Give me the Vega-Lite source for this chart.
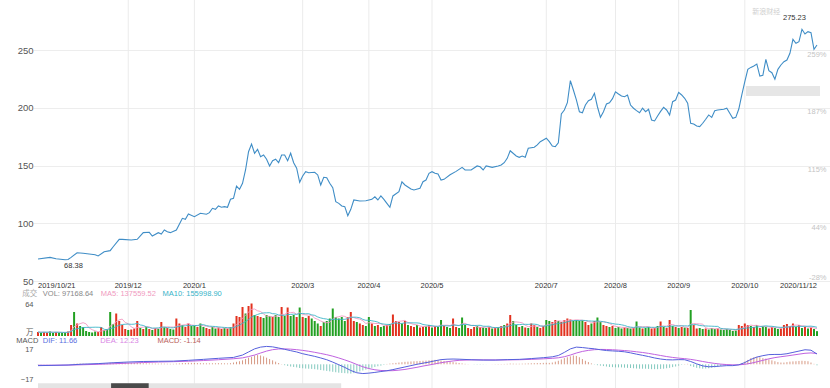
{
"$schema": "https://vega.github.io/schema/vega-lite/v6.json",
"width": 797, "height": 388,
"autosize": {"type": "none"},
"padding": {"left": 33, "top": 0, "right": 0, "bottom": 0},
"background": "white",
"config": {"view": {"stroke": null}, "font": "Liberation Sans, Noto Sans CJK SC"},
"datasets": {
"ticks": [
{"i":0,"t":"2019/10/21"},{"i":30,"t":"2019/12"},{"i":52,"t":"2020/1"},{"i":88,"t":"2020/3"},{"i":110,"t":"2020/4"},{"i":131,"t":"2020/5"},{"i":169,"t":"2020/7"},{"i":192,"t":"2020/8"},{"i":213,"t":"2020/9"},{"i":235,"t":"2020/10"},{"i":259,"t":"2020/11/12"}
],
"price": [
{"i":0,"c":69.0},{"i":4,"c":70.5},{"i":6,"c":69.3},{"i":9,"c":68.4},{"i":10,"c":68.6},{"i":11,"c":70.5},{"i":13,"c":74.5},{"i":15,"c":74.0},{"i":17,"c":73.4},{"i":19,"c":72.8},{"i":20,"c":71.7},{"i":22,"c":75.4},{"i":24,"c":76.3},{"i":25,"c":79.7},{"i":27,"c":86.1},{"i":28,"c":86.1},{"i":31,"c":85.5},{"i":33,"c":86.1},{"i":35,"c":91.9},{"i":37,"c":92.2},{"i":38,"c":89.0},{"i":40,"c":91.9},{"i":41,"c":90.7},{"i":42,"c":94.2},{"i":43,"c":92.7},{"i":44,"c":91.9},{"i":46,"c":94.2},{"i":48,"c":104.3},{"i":49,"c":103.5},{"i":50,"c":108.0},{"i":52,"c":105.7},{"i":54,"c":108.7},{"i":56,"c":107.8},{"i":57,"c":109.2},{"i":58,"c":113.0},{"i":59,"c":112.1},{"i":60,"c":115.0},{"i":61,"c":113.9},{"i":62,"c":114.4},{"i":63,"c":113.9},{"i":64,"c":120.8},{"i":65,"c":121.7},{"i":66,"c":132.3},{"i":67,"c":129.5},{"i":68,"c":134.7},{"i":69,"c":146.2},{"i":70,"c":162.0},{"i":71,"c":168.7},{"i":72,"c":160.7},{"i":73,"c":164.1},{"i":74,"c":157.7},{"i":75,"c":159.2},{"i":76,"c":155.5},{"i":77,"c":149.7},{"i":78,"c":154.2},{"i":79,"c":155.5},{"i":80,"c":152.5},{"i":81,"c":159.2},{"i":82,"c":159.2},{"i":83,"c":154.2},{"i":84,"c":160.7},{"i":85,"c":152.5},{"i":86,"c":147.7},{"i":87,"c":135.5},{"i":88,"c":141.0},{"i":89,"c":144.7},{"i":90,"c":143.8},{"i":92,"c":144.2},{"i":93,"c":141.9},{"i":94,"c":133.2},{"i":95,"c":139.9},{"i":96,"c":139.5},{"i":97,"c":134.7},{"i":98,"c":130.9},{"i":99,"c":118.7},{"i":100,"c":117.3},{"i":101,"c":115.0},{"i":102,"c":114.4},{"i":103,"c":106.6},{"i":104,"c":112.1},{"i":105,"c":120.2},{"i":107,"c":119.3},{"i":109,"c":119.6},{"i":111,"c":120.8},{"i":112,"c":123.0},{"i":113,"c":120.2},{"i":114,"c":123.7},{"i":115,"c":120.8},{"i":116,"c":117.3},{"i":117,"c":113.9},{"i":118,"c":123.7},{"i":120,"c":127.4},{"i":121,"c":136.0},{"i":122,"c":133.2},{"i":124,"c":129.7},{"i":125,"c":128.9},{"i":127,"c":130.3},{"i":128,"c":136.0},{"i":129,"c":137.5},{"i":130,"c":143.3},{"i":131,"c":144.7},{"i":132,"c":143.3},{"i":133,"c":142.7},{"i":134,"c":137.5},{"i":135,"c":138.1},{"i":137,"c":142.0},{"i":139,"c":145.0},{"i":141,"c":148.5},{"i":142,"c":146.2},{"i":144,"c":146.2},{"i":146,"c":149.7},{"i":147,"c":149.0},{"i":148,"c":146.2},{"i":149,"c":149.7},{"i":151,"c":148.5},{"i":153,"c":149.7},{"i":154,"c":150.5},{"i":155,"c":152.5},{"i":156,"c":156.3},{"i":157,"c":162.9},{"i":159,"c":158.3},{"i":160,"c":157.2},{"i":161,"c":158.3},{"i":162,"c":157.2},{"i":163,"c":165.0},{"i":165,"c":165.9},{"i":166,"c":167.9},{"i":167,"c":170.7},{"i":168,"c":172.2},{"i":169,"c":173.7},{"i":170,"c":170.7},{"i":171,"c":167.0},{"i":172,"c":166.4},{"i":173,"c":169.8},{"i":174,"c":194.7},{"i":175,"c":198.2},{"i":176,"c":204.5},{"i":177,"c":223.6},{"i":178,"c":215.5},{"i":179,"c":207.0},{"i":180,"c":196.7},{"i":181,"c":195.8},{"i":182,"c":202.5},{"i":183,"c":206.2},{"i":184,"c":207.4},{"i":185,"c":212.6},{"i":186,"c":201.0},{"i":187,"c":191.8},{"i":188,"c":196.7},{"i":189,"c":203.4},{"i":190,"c":204.5},{"i":191,"c":208.0},{"i":192,"c":214.0},{"i":193,"c":212.0},{"i":194,"c":210.3},{"i":195,"c":209.7},{"i":196,"c":211.2},{"i":197,"c":202.5},{"i":198,"c":199.7},{"i":199,"c":197.6},{"i":200,"c":195.8},{"i":201,"c":199.7},{"i":202,"c":196.7},{"i":203,"c":198.8},{"i":204,"c":189.5},{"i":205,"c":188.7},{"i":206,"c":193.0},{"i":207,"c":197.0},{"i":208,"c":200.5},{"i":209,"c":198.2},{"i":210,"c":193.9},{"i":211,"c":205.4},{"i":212,"c":206.8},{"i":213,"c":213.5},{"i":214,"c":211.2},{"i":215,"c":208.3},{"i":216,"c":204.0},{"i":217,"c":186.7},{"i":218,"c":186.1},{"i":219,"c":184.3},{"i":220,"c":183.8},{"i":221,"c":186.7},{"i":222,"c":190.2},{"i":223,"c":193.9},{"i":224,"c":191.8},{"i":225,"c":197.6},{"i":226,"c":198.2},{"i":228,"c":198.8},{"i":229,"c":199.7},{"i":230,"c":195.3},{"i":231,"c":191.0},{"i":232,"c":191.8},{"i":233,"c":199.0},{"i":234,"c":211.2},{"i":235,"c":222.7},{"i":236,"c":233.4},{"i":237,"c":235.1},{"i":238,"c":236.3},{"i":239,"c":238.0},{"i":240,"c":227.6},{"i":241,"c":228.2},{"i":242,"c":242.1},{"i":243,"c":232.2},{"i":244,"c":230.5},{"i":245,"c":224.8},{"i":246,"c":233.4},{"i":247,"c":237.2},{"i":248,"c":240.0},{"i":249,"c":241.5},{"i":250,"c":247.3},{"i":251,"c":259.4},{"i":252,"c":256.0},{"i":253,"c":257.4},{"i":254,"c":268.1},{"i":255,"c":264.0},{"i":256,"c":266.1},{"i":257,"c":265.2},{"i":258,"c":250.8},{"i":259,"c":254.5}
],
"daily": [
{"i":0,"v":8,"u":1,"m":-0.3},{"i":1,"v":7,"u":0,"m":-0.3},{"i":2,"v":8,"u":1,"m":-0.2},{"i":3,"v":7,"u":1,"m":-0.2},{"i":4,"v":9,"u":0,"m":-0.1},{"i":5,"v":6,"u":0,"m":-0.1},{"i":6,"v":8,"u":1,"m":0},{"i":7,"v":7,"u":0,"m":0},{"i":8,"v":6,"u":0,"m":0.1},{"i":9,"v":7,"u":0,"m":0},
{"i":10,"v":9,"u":1,"m":0.1},{"i":11,"v":22,"u":1,"m":0.3},{"i":12,"v":48,"u":0,"m":0.6},{"i":13,"v":25,"u":1,"m":0.8},{"i":14,"v":20,"u":0,"m":0.9},{"i":15,"v":18,"u":0,"m":0.8},{"i":16,"v":10,"u":0,"m":0.6},{"i":17,"v":8,"u":0,"m":0.5},{"i":18,"v":7,"u":0,"m":0.4},{"i":19,"v":9,"u":0,"m":0.4},
{"i":20,"v":8,"u":1,"m":0.5},{"i":21,"v":18,"u":1,"m":0.8},{"i":22,"v":12,"u":0,"m":1},{"i":23,"v":14,"u":0,"m":1.2},{"i":24,"v":48,"u":0,"m":1.8},{"i":25,"v":24,"u":0,"m":2},{"i":26,"v":45,"u":1,"m":2.4},{"i":27,"v":30,"u":1,"m":2.4},{"i":28,"v":22,"u":1,"m":2.2},{"i":29,"v":14,"u":1,"m":2},
{"i":30,"v":12,"u":0,"m":1.8},{"i":31,"v":13,"u":1,"m":1.6},{"i":32,"v":15,"u":1,"m":1.5},{"i":33,"v":30,"u":1,"m":1.6},{"i":34,"v":16,"u":0,"m":1.4},{"i":35,"v":14,"u":1,"m":1.2},{"i":36,"v":18,"u":0,"m":1.1},{"i":37,"v":14,"u":1,"m":1},{"i":38,"v":12,"u":0,"m":0.8},{"i":39,"v":16,"u":1,"m":0.8},
{"i":40,"v":14,"u":0,"m":0.7},{"i":41,"v":28,"u":1,"m":0.8},{"i":42,"v":18,"u":0,"m":0.7},{"i":43,"v":16,"u":1,"m":0.6},{"i":44,"v":14,"u":0,"m":0.5},{"i":45,"v":13,"u":0,"m":0.5},{"i":46,"v":35,"u":1,"m":0.8},{"i":47,"v":25,"u":1,"m":1},{"i":48,"v":22,"u":0,"m":1.4},{"i":49,"v":18,"u":1,"m":1.5},
{"i":50,"v":25,"u":1,"m":1.7},{"i":51,"v":20,"u":0,"m":1.6},{"i":52,"v":21,"u":0,"m":1.5},{"i":53,"v":18,"u":1,"m":1.4},{"i":54,"v":25,"u":0,"m":1.3},{"i":55,"v":18,"u":0,"m":1.2},{"i":56,"v":16,"u":1,"m":1.1},{"i":57,"v":14,"u":1,"m":1.1},{"i":58,"v":18,"u":0,"m":1.2},{"i":59,"v":15,"u":0,"m":1.2},
{"i":60,"v":17,"u":1,"m":1.3},{"i":61,"v":14,"u":1,"m":1.2},{"i":62,"v":16,"u":0,"m":1.1},{"i":63,"v":15,"u":1,"m":1},{"i":64,"v":18,"u":0,"m":1.3},{"i":65,"v":25,"u":1,"m":2},{"i":66,"v":40,"u":1,"m":2.8},{"i":67,"v":38,"u":1,"m":3.5},{"i":68,"v":58,"u":1,"m":4.5},{"i":69,"v":45,"u":0,"m":6},
{"i":70,"v":60,"u":1,"m":7.5},{"i":71,"v":65,"u":1,"m":8.5},{"i":72,"v":42,"u":0,"m":10},{"i":73,"v":40,"u":1,"m":10.5},{"i":74,"v":38,"u":1,"m":10},{"i":75,"v":36,"u":0,"m":9},{"i":76,"v":42,"u":0,"m":7.5},{"i":77,"v":40,"u":0,"m":6},{"i":78,"v":38,"u":1,"m":4.5},{"i":79,"v":42,"u":0,"m":3},
{"i":80,"v":38,"u":0,"m":1.5},{"i":81,"v":58,"u":1,"m":0.3},{"i":82,"v":40,"u":0,"m":-1},{"i":83,"v":57,"u":1,"m":-1.8},{"i":84,"v":40,"u":0,"m":-2.5},{"i":85,"v":42,"u":0,"m":-3},{"i":86,"v":38,"u":1,"m":-3.5},{"i":87,"v":57,"u":0,"m":-4.2},{"i":88,"v":38,"u":1,"m":-4.5},{"i":89,"v":36,"u":0,"m":-4.8},
{"i":90,"v":40,"u":1,"m":-5},{"i":91,"v":35,"u":0,"m":-5.2},{"i":92,"v":30,"u":0,"m":-5.5},{"i":93,"v":25,"u":0,"m":-6},{"i":94,"v":20,"u":1,"m":-6.5},{"i":95,"v":28,"u":0,"m":-7},{"i":96,"v":30,"u":0,"m":-7.5},{"i":97,"v":35,"u":0,"m":-8},{"i":98,"v":55,"u":0,"m":-8.5},{"i":99,"v":38,"u":0,"m":-9},
{"i":100,"v":35,"u":0,"m":-9.5},{"i":101,"v":38,"u":0,"m":-9.8},{"i":102,"v":30,"u":0,"m":-10},{"i":103,"v":38,"u":1,"m":-10.3},{"i":104,"v":48,"u":1,"m":-10.5},{"i":105,"v":30,"u":1,"m":-10},{"i":106,"v":28,"u":0,"m":-9},{"i":107,"v":25,"u":1,"m":-8},{"i":108,"v":22,"u":1,"m":-7},{"i":109,"v":20,"u":0,"m":-6},
{"i":110,"v":38,"u":0,"m":-5},{"i":111,"v":25,"u":1,"m":-4},{"i":112,"v":20,"u":0,"m":-3},{"i":113,"v":22,"u":1,"m":-2.2},{"i":114,"v":18,"u":0,"m":-1.5},{"i":115,"v":20,"u":0,"m":-0.6},{"i":116,"v":22,"u":1,"m":0.4},{"i":117,"v":24,"u":0,"m":0.8},{"i":118,"v":43,"u":1,"m":1.2},{"i":119,"v":30,"u":1,"m":1.6},
{"i":120,"v":28,"u":1,"m":2},{"i":121,"v":25,"u":0,"m":2.4},{"i":122,"v":30,"u":1,"m":2.8},{"i":123,"v":22,"u":0,"m":3},{"i":124,"v":20,"u":1,"m":3.2},{"i":125,"v":18,"u":1,"m":3.4},{"i":126,"v":22,"u":0,"m":3.6},{"i":127,"v":17,"u":1,"m":3.8},{"i":128,"v":18,"u":1,"m":4},{"i":129,"v":20,"u":0,"m":4.2},
{"i":130,"v":22,"u":1,"m":4.5},{"i":131,"v":17,"u":0,"m":4.8},{"i":132,"v":20,"u":1,"m":5},{"i":133,"v":18,"u":0,"m":4.6},{"i":134,"v":32,"u":0,"m":4.2},{"i":135,"v":20,"u":1,"m":3.8},{"i":136,"v":18,"u":0,"m":3.5},{"i":137,"v":16,"u":0,"m":3},{"i":138,"v":35,"u":1,"m":2.5},{"i":139,"v":18,"u":1,"m":2},
{"i":140,"v":16,"u":0,"m":1.5},{"i":141,"v":37,"u":0,"m":1},{"i":142,"v":22,"u":0,"m":0.5},{"i":143,"v":16,"u":1,"m":0.2},{"i":144,"v":14,"u":1,"m":0},{"i":145,"v":18,"u":1,"m":-0.2},{"i":146,"v":20,"u":0,"m":-0.3},{"i":147,"v":18,"u":1,"m":-0.3},{"i":148,"v":17,"u":0,"m":-0.2},{"i":149,"v":16,"u":0,"m":-0.1},
{"i":150,"v":18,"u":1,"m":0},{"i":151,"v":15,"u":0,"m":0.1},{"i":152,"v":16,"u":1,"m":0.2},{"i":153,"v":18,"u":0,"m":0.3},{"i":154,"v":20,"u":1,"m":0.3},{"i":155,"v":22,"u":0,"m":0.4},{"i":156,"v":25,"u":1,"m":0.5},{"i":157,"v":42,"u":1,"m":0.8},{"i":158,"v":30,"u":0,"m":0.7},{"i":159,"v":22,"u":0,"m":0.6},
{"i":160,"v":18,"u":1,"m":0.6},{"i":161,"v":20,"u":0,"m":0.7},{"i":162,"v":17,"u":1,"m":0.8},{"i":163,"v":16,"u":0,"m":1},{"i":164,"v":25,"u":1,"m":1.2},{"i":165,"v":22,"u":1,"m":1.3},{"i":166,"v":18,"u":0,"m":1.4},{"i":167,"v":16,"u":1,"m":1.5},{"i":168,"v":20,"u":1,"m":1.6},{"i":169,"v":32,"u":0,"m":1.7},
{"i":170,"v":30,"u":0,"m":1.6},{"i":171,"v":28,"u":1,"m":2},{"i":172,"v":32,"u":1,"m":3},{"i":173,"v":30,"u":0,"m":4},{"i":174,"v":28,"u":1,"m":5.5},{"i":175,"v":32,"u":1,"m":7},{"i":176,"v":35,"u":1,"m":8},{"i":177,"v":33,"u":1,"m":9},{"i":178,"v":30,"u":0,"m":10},{"i":179,"v":32,"u":0,"m":9.5},
{"i":180,"v":30,"u":0,"m":8},{"i":181,"v":32,"u":0,"m":6},{"i":182,"v":28,"u":1,"m":4},{"i":183,"v":22,"u":1,"m":2.5},{"i":184,"v":25,"u":0,"m":1},{"i":185,"v":30,"u":1,"m":-0.3},{"i":186,"v":37,"u":0,"m":-1},{"i":187,"v":28,"u":0,"m":-1.5},{"i":188,"v":22,"u":1,"m":-2},{"i":189,"v":20,"u":1,"m":-2.5},
{"i":190,"v":18,"u":0,"m":-3},{"i":191,"v":20,"u":1,"m":-3.2},{"i":192,"v":16,"u":0,"m":-3.5},{"i":193,"v":18,"u":0,"m":-3.5},{"i":194,"v":15,"u":0,"m":-3.5},{"i":195,"v":17,"u":1,"m":-3.8},{"i":196,"v":16,"u":0,"m":-4},{"i":197,"v":15,"u":0,"m":-4.2},{"i":198,"v":16,"u":1,"m":-4.5},{"i":199,"v":29,"u":0,"m":-4.8},
{"i":200,"v":17,"u":0,"m":-5},{"i":201,"v":15,"u":1,"m":-5},{"i":202,"v":16,"u":0,"m":-5},{"i":203,"v":18,"u":0,"m":-5.2},{"i":204,"v":15,"u":1,"m":-5.5},{"i":205,"v":16,"u":1,"m":-5.5},{"i":206,"v":20,"u":0,"m":-5.5},{"i":207,"v":29,"u":1,"m":-5.2},{"i":208,"v":18,"u":0,"m":-5},{"i":209,"v":16,"u":1,"m":-4.5},
{"i":210,"v":32,"u":1,"m":-4},{"i":211,"v":20,"u":0,"m":-3.2},{"i":212,"v":18,"u":1,"m":-2.5},{"i":213,"v":16,"u":0,"m":-1.5},{"i":214,"v":18,"u":1,"m":-0.5},{"i":215,"v":17,"u":0,"m":0.3},{"i":216,"v":16,"u":1,"m":0.5},{"i":217,"v":52,"u":0,"m":-2},{"i":218,"v":22,"u":1,"m":-3},{"i":219,"v":15,"u":1,"m":-4},
{"i":220,"v":16,"u":0,"m":-4.5},{"i":221,"v":14,"u":0,"m":-5},{"i":222,"v":15,"u":1,"m":-4.8},{"i":223,"v":13,"u":0,"m":-4.5},{"i":224,"v":16,"u":0,"m":-4},{"i":225,"v":14,"u":0,"m":-3.5},{"i":226,"v":15,"u":1,"m":-2.8},{"i":227,"v":13,"u":0,"m":-2},{"i":228,"v":12,"u":0,"m":-1},{"i":229,"v":14,"u":0,"m":-0.5},
{"i":230,"v":12,"u":0,"m":-0.3},{"i":231,"v":10,"u":0,"m":-0.2},{"i":232,"v":11,"u":0,"m":0},{"i":233,"v":22,"u":1,"m":0.3},{"i":234,"v":20,"u":1,"m":1},{"i":235,"v":25,"u":1,"m":3},{"i":236,"v":22,"u":1,"m":5},{"i":237,"v":20,"u":0,"m":7},{"i":238,"v":18,"u":1,"m":8},{"i":239,"v":22,"u":0,"m":8.5},
{"i":240,"v":16,"u":1,"m":8},{"i":241,"v":20,"u":0,"m":7},{"i":242,"v":18,"u":0,"m":6.5},{"i":243,"v":15,"u":1,"m":5.5},{"i":244,"v":18,"u":1,"m":4.5},{"i":245,"v":16,"u":0,"m":3.5},{"i":246,"v":14,"u":0,"m":2.5},{"i":247,"v":15,"u":1,"m":2},{"i":248,"v":22,"u":1,"m":2},{"i":249,"v":24,"u":1,"m":2.5},
{"i":250,"v":20,"u":1,"m":3},{"i":251,"v":25,"u":1,"m":3.3},{"i":252,"v":18,"u":0,"m":3.5},{"i":253,"v":22,"u":1,"m":3.8},{"i":254,"v":16,"u":0,"m":4},{"i":255,"v":18,"u":1,"m":3.8},{"i":256,"v":15,"u":0,"m":3.5},{"i":257,"v":17,"u":1,"m":2},{"i":258,"v":14,"u":0,"m":0.5},{"i":259,"v":9.7,"u":0,"m":-1.14}
],
"macd": [
{"i":0,"dif":-1.5,"dea":-1.0},{"i":5,"dif":-1.2,"dea":-1.0},{"i":10,"dif":-0.8,"dea":-0.9},{"i":15,"dif":0.2,"dea":-0.5},{"i":20,"dif":0.8,"dea":0.0},{"i":25,"dif":1.8,"dea":0.6},{"i":30,"dif":2.6,"dea":1.3},{"i":35,"dif":3.2,"dea":2.0},{"i":40,"dif":3.4,"dea":2.6},{"i":45,"dif":3.6,"dea":3.0},{"i":50,"dif":4.5,"dea":3.5},{"i":55,"dif":5.6,"dea":4.3},{"i":60,"dif":6.8,"dea":5.2},{"i":65,"dif":7.8,"dea":6.3},{"i":68,"dif":10.5,"dea":7.3},{"i":70,"dif":14,"dea":8.8},{"i":72,"dif":17.5,"dea":10.5},{"i":74,"dif":19.5,"dea":12.8},{"i":76,"dif":20.3,"dea":15},{"i":78,"dif":19.8,"dea":16.6},{"i":80,"dif":18.5,"dea":17.4},{"i":82,"dif":17,"dea":17.5},{"i":84,"dif":15.5,"dea":17.2},{"i":86,"dif":14,"dea":16.6},{"i":88,"dif":12,"dea":15.8},{"i":90,"dif":10.5,"dea":14.8},{"i":92,"dif":9,"dea":13.6},{"i":94,"dif":7.2,"dea":12.3},{"i":96,"dif":5.2,"dea":10.9},{"i":98,"dif":2.5,"dea":9.2},{"i":100,"dif":-0.5,"dea":7.2},{"i":102,"dif":-3.5,"dea":5},{"i":104,"dif":-7,"dea":2.6},{"i":106,"dif":-9.6,"dea":-0.2},{"i":108,"dif":-10.5,"dea":-2.8},{"i":110,"dif":-10,"dea":-4.8},{"i":112,"dif":-9.2,"dea":-6.2},{"i":114,"dif":-8.2,"dea":-7},{"i":116,"dif":-7.3,"dea":-7.3},{"i":118,"dif":-6,"dea":-7.2},{"i":120,"dif":-4.5,"dea":-6.6},{"i":122,"dif":-3,"dea":-5.8},{"i":124,"dif":-1.5,"dea":-4.6},{"i":126,"dif":0,"dea":-3.4},{"i":128,"dif":1.3,"dea":-2},{"i":130,"dif":2.5,"dea":-0.8},{"i":132,"dif":4,"dea":0.5},{"i":134,"dif":5.3,"dea":1.8},{"i":136,"dif":5.8,"dea":2.9},{"i":138,"dif":6,"dea":3.8},{"i":140,"dif":5.8,"dea":4.5},{"i":144,"dif":5.2,"dea":5},{"i":148,"dif":4.8,"dea":5},{"i":152,"dif":4.8,"dea":4.9},{"i":156,"dif":5.3,"dea":5},{"i":160,"dif":5.6,"dea":5.2},{"i":164,"dif":6.5,"dea":5.6},{"i":168,"dif":7.5,"dea":6.2},{"i":171,"dif":8.5,"dea":6.8},{"i":173,"dif":10,"dea":7.4},{"i":175,"dif":13.5,"dea":8.6},{"i":177,"dif":17.5,"dea":10.5},{"i":179,"dif":19.5,"dea":12.8},{"i":181,"dif":19,"dea":14.6},{"i":183,"dif":18.2,"dea":15.8},{"i":185,"dif":17.6,"dea":16.6},{"i":187,"dif":16.5,"dea":16.9},{"i":189,"dif":15.6,"dea":16.8},{"i":191,"dif":15.2,"dea":16.5},{"i":193,"dif":14.8,"dea":16.1},{"i":195,"dif":14.2,"dea":15.6},{"i":197,"dif":13,"dea":15},{"i":199,"dif":11.5,"dea":14.2},{"i":201,"dif":10.2,"dea":13.4},{"i":203,"dif":8.8,"dea":12.4},{"i":205,"dif":7.2,"dea":11.2},{"i":207,"dif":6,"dea":10},{"i":209,"dif":5.2,"dea":8.8},{"i":211,"dif":5,"dea":7.8},{"i":213,"dif":5.3,"dea":7},{"i":215,"dif":5.2,"dea":6.4},{"i":217,"dif":3.2,"dea":5.6},{"i":219,"dif":0.5,"dea":4.5},{"i":221,"dif":-1.8,"dea":3.2},{"i":223,"dif":-2.8,"dea":2},{"i":225,"dif":-2.5,"dea":1},{"i":227,"dif":-2,"dea":0.2},{"i":229,"dif":-1.5,"dea":-0.3},{"i":231,"dif":-1.5,"dea":-0.6},{"i":233,"dif":-0.6,"dea":-0.6},{"i":235,"dif":2,"dea":0},{"i":237,"dif":5.5,"dea":1.2},{"i":239,"dif":8.2,"dea":2.8},{"i":241,"dif":9.8,"dea":4.5},{"i":243,"dif":11,"dea":6.2},{"i":245,"dif":11.2,"dea":7.6},{"i":247,"dif":11.2,"dea":8.6},{"i":249,"dif":12,"dea":9.5},{"i":251,"dif":13.5,"dea":10.5},{"i":253,"dif":15,"dea":11.5},{"i":255,"dif":16.5,"dea":12.5},{"i":257,"dif":16,"dea":12.9},{"i":259,"dif":11.66,"dea":12.23}
]
},
"resolve": {"scale": {"y": "independent"}, "axis": {"y": "independent"}},
"layer": [
{"data": {"name": "ticks"},
 "transform": [{"filter": "datum.i > 0 && datum.i < 259"}],
 "mark": {"type": "rule", "color": "#ebebeb", "strokeWidth": 1},
 "encoding": {
  "x": {"field": "i", "type": "quantitative", "scale": {"domain": [0, 261.66], "nice": false, "zero": false}, "axis": null}}},
{"data": {"values": [{}]},
 "mark": {"type": "rect", "color": "#e6e6e6"},
 "encoding": {
  "x": {"datum": 235.4, "type": "quantitative", "scale": {"domain": [0, 261.66], "nice": false, "zero": false}, "axis": null},
  "x2": {"datum": 260.0},
  "y": {"datum": 219.0, "type": "quantitative", "scale": {"domain": [50, 293.5], "range": [281, 0], "nice": false, "zero": false}, "axis": null},
  "y2": {"datum": 210.3}}},
{"data": {"values": [{}]},
 "mark": {"type": "rect", "color": "#e4e4e4"},
 "encoding": {
  "x": {"datum": 0, "type": "quantitative", "scale": {"domain": [0, 261.66], "nice": false, "zero": false}, "axis": null},
  "x2": {"datum": 100.8},
  "y": {"datum": -21.6, "type": "quantitative", "scale": {"domain": [-21.2, 21.9], "range": [383, 345], "nice": false, "zero": false}, "axis": null},
  "y2": {"datum": -27}}},
{"data": {"values": [{}]},
 "mark": {"type": "rect", "color": "#4a4a4a"},
 "encoding": {
  "x": {"datum": 24.3, "type": "quantitative", "scale": {"domain": [0, 261.66], "nice": false, "zero": false}, "axis": null},
  "x2": {"datum": 36.8},
  "y": {"datum": -21.6, "type": "quantitative", "scale": {"domain": [-21.2, 21.9], "range": [383, 345], "nice": false, "zero": false}, "axis": null},
  "y2": {"datum": -27}}},
{"data": {"name": "price"},
 "mark": {"type": "line", "color": "#3f8dc6", "strokeWidth": 1.1},
 "encoding": {
  "x": {"field": "i", "type": "quantitative", "scale": {"domain": [0, 261.66], "nice": false, "zero": false}, "axis": null},
  "y": {"field": "c", "type": "quantitative", "scale": {"domain": [50, 293.5], "range": [281, 0], "nice": false, "zero": false},
   "axis": {"title": null, "orient": "left", "values": [50, 100, 150, 200, 250], "domain": false, "ticks": false, "tickSize": 0, "labelPadding": 0, "labelFontSize": 9.5, "labelColor": "#555", "grid": true, "gridColor": "#ededed"}}}},
{"data": {"name": "price"},
 "mark": {"type": "line", "strokeOpacity": 0},
 "encoding": {
  "x": {"field": "i", "type": "quantitative", "scale": {"domain": [0, 261.66], "nice": false, "zero": false}, "axis": null},
  "y": {"field": "c", "type": "quantitative", "scale": {"domain": [50, 293.5], "range": [281, 0], "nice": false, "zero": false},
   "axis": {"title": null, "orient": "right", "values": [50, 100, 150, 200, 250],
    "labelExpr": "datum.value==250?'259%':datum.value==200?'187%':datum.value==150?'115%':datum.value==100?'44%':'-28%'",
    "domain": false, "ticks": false, "tickSize": 0, "grid": false, "labelAlign": "right", "labelPadding": -4, "labelFontSize": 7.5, "labelColor": "#c4c4c4",
    "labelBaseline": {"condition": {"test": "datum.value==50", "value": "bottom"}, "value": "top"}}}}},
{"data": {"name": "ticks"},
 "transform": [{"filter": "datum.i == 0"}],
 "mark": {"type": "text", "fontSize": 7.5, "color": "#333", "align": "left", "baseline": "middle"},
 "encoding": {
  "x": {"field": "i", "type": "quantitative", "scale": {"domain": [0, 261.66], "nice": false, "zero": false}, "axis": null},
  "y": {"datum": 45.7, "type": "quantitative", "scale": {"domain": [50, 293.5], "range": [281, 0], "nice": false, "zero": false}, "axis": null},
  "text": {"field": "t"}}},
{"data": {"name": "ticks"},
 "transform": [{"filter": "datum.i > 0 && datum.i < 259"}],
 "mark": {"type": "text", "fontSize": 7.5, "color": "#333", "align": "center", "baseline": "middle"},
 "encoding": {
  "x": {"field": "i", "type": "quantitative", "scale": {"domain": [0, 261.66], "nice": false, "zero": false}, "axis": null},
  "y": {"datum": 45.7, "type": "quantitative", "scale": {"domain": [50, 293.5], "range": [281, 0], "nice": false, "zero": false}, "axis": null},
  "text": {"field": "t"}}},
{"data": {"name": "ticks"},
 "transform": [{"filter": "datum.i == 259"}],
 "mark": {"type": "text", "fontSize": 7.5, "color": "#333", "align": "right", "baseline": "middle"},
 "encoding": {
  "x": {"field": "i", "type": "quantitative", "scale": {"domain": [0, 261.66], "nice": false, "zero": false}, "axis": null},
  "y": {"datum": 45.7, "type": "quantitative", "scale": {"domain": [50, 293.5], "range": [281, 0], "nice": false, "zero": false}, "axis": null},
  "text": {"field": "t"}}},
{"data": {"values": [{}]},
 "mark": {"type": "text", "fontSize": 7.5, "color": "#333", "align": "center", "baseline": "middle"},
 "encoding": {
  "x": {"datum": 251.5, "type": "quantitative", "scale": {"domain": [0, 261.66], "nice": false, "zero": false}, "axis": null},
  "y": {"datum": 277.9, "type": "quantitative", "scale": {"domain": [50, 293.5], "range": [281, 0], "nice": false, "zero": false}, "axis": null},
  "text": {"value": "275.23"}}},
{"data": {"values": [{}]},
 "mark": {"type": "text", "fontSize": 7.5, "color": "#333", "align": "center", "baseline": "middle"},
 "encoding": {
  "x": {"datum": 11.8, "type": "quantitative", "scale": {"domain": [0, 261.66], "nice": false, "zero": false}, "axis": null},
  "y": {"datum": 63.0, "type": "quantitative", "scale": {"domain": [50, 293.5], "range": [281, 0], "nice": false, "zero": false}, "axis": null},
  "text": {"value": "68.38"}}},
{"data": {"values": [{}]},
 "mark": {"type": "text", "fontSize": 7, "color": "#cfcfcf", "align": "left", "baseline": "middle"},
 "encoding": {
  "x": {"datum": 237.5, "type": "quantitative", "scale": {"domain": [0, 261.66], "nice": false, "zero": false}, "axis": null},
  "y": {"datum": 283.1, "type": "quantitative", "scale": {"domain": [50, 293.5], "range": [281, 0], "nice": false, "zero": false}, "axis": null},
  "text": {"value": "新浪财经"}}},
{"data": {"name": "daily"},
 "mark": {"type": "bar", "size": 2},
 "encoding": {
  "x": {"field": "i", "type": "quantitative", "scale": {"domain": [0, 261.66], "nice": false, "zero": false}, "axis": null},
  "y": {"field": "v", "type": "quantitative", "scale": {"domain": [0, 72], "range": [336, 300], "nice": false, "zero": false},
   "axis": {"title": null, "orient": "left", "values": [0, 64], "labelExpr": "datum.value==0?'万':'64'", "domain": false, "ticks": false, "tickSize": 0, "labelPadding": 0, "labelFontSize": 7.5, "labelColor": "#555", "grid": false,
    "labelBaseline": {"condition": {"test": "datum.value==0", "value": "bottom"}, "value": "middle"}}},
  "color": {"condition": {"test": "datum.u==1", "value": "#e2321f"}, "value": "#22a022"}}},
{"data": {"name": "daily"},
 "transform": [{"window": [{"op": "mean", "field": "v", "as": "ma5"}], "frame": [-4, 0], "sort": [{"field": "i"}]}],
 "mark": {"type": "line", "color": "#f29ac2", "strokeWidth": 0.9},
 "encoding": {
  "x": {"field": "i", "type": "quantitative", "scale": {"domain": [0, 261.66], "nice": false, "zero": false}, "axis": null},
  "y": {"field": "ma5", "type": "quantitative", "scale": {"domain": [0, 72], "range": [336, 300], "nice": false, "zero": false}, "axis": null}}},
{"data": {"name": "daily"},
 "transform": [{"window": [{"op": "mean", "field": "v", "as": "ma10"}], "frame": [-9, 0], "sort": [{"field": "i"}]}],
 "mark": {"type": "line", "color": "#3db5c8", "strokeWidth": 0.9},
 "encoding": {
  "x": {"field": "i", "type": "quantitative", "scale": {"domain": [0, 261.66], "nice": false, "zero": false}, "axis": null},
  "y": {"field": "ma10", "type": "quantitative", "scale": {"domain": [0, 72], "range": [336, 300], "nice": false, "zero": false}, "axis": null}}},
{"data": {"name": "daily"},
 "mark": {"type": "rule", "strokeWidth": 1, "opacity": 0.75},
 "encoding": {
  "x": {"field": "i", "type": "quantitative", "scale": {"domain": [0, 261.66], "nice": false, "zero": false}, "axis": null},
  "y": {"field": "m", "type": "quantitative", "scale": {"domain": [-21.2, 21.9], "range": [383, 345], "nice": false, "zero": false},
   "axis": {"title": null, "orient": "left", "values": [-17, 17], "domain": false, "ticks": false, "tickSize": 0, "labelPadding": 0, "labelFontSize": 7.5, "labelColor": "#555", "grid": false}},
  "y2": {"datum": 0},
  "color": {"condition": {"test": "datum.m>0", "value": "#c9785c"}, "value": "#5cb8aa"}}},
{"data": {"name": "macd"},
 "mark": {"type": "line", "color": "#c062e0", "strokeWidth": 1},
 "encoding": {
  "x": {"field": "i", "type": "quantitative", "scale": {"domain": [0, 261.66], "nice": false, "zero": false}, "axis": null},
  "y": {"field": "dea", "type": "quantitative", "scale": {"domain": [-21.2, 21.9], "range": [383, 345], "nice": false, "zero": false}, "axis": null}}},
{"data": {"name": "macd"},
 "mark": {"type": "line", "color": "#5660dc", "strokeWidth": 1},
 "encoding": {
  "x": {"field": "i", "type": "quantitative", "scale": {"domain": [0, 261.66], "nice": false, "zero": false}, "axis": null},
  "y": {"field": "dif", "type": "quantitative", "scale": {"domain": [-21.2, 21.9], "range": [383, 345], "nice": false, "zero": false}, "axis": null}}},
{"data": {"values": [{}]},
 "mark": {"type": "text", "fontSize": 7.5, "color": "#aaa", "align": "left", "baseline": "middle"},
 "encoding": {
  "x": {"datum": -5.25, "type": "quantitative", "scale": {"domain": [0, 261.66], "nice": false, "zero": false}, "axis": null},
  "y": {"datum": 84, "type": "quantitative", "scale": {"domain": [0, 72], "range": [336, 300], "nice": false, "zero": false}, "axis": null},
  "text": {"value": "成交"}}},
{"data": {"values": [{}]},
 "mark": {"type": "text", "fontSize": 7.5, "color": "#888", "align": "left", "baseline": "middle"},
 "encoding": {
  "x": {"datum": 1.6, "type": "quantitative", "scale": {"domain": [0, 261.66], "nice": false, "zero": false}, "axis": null},
  "y": {"datum": 84, "type": "quantitative", "scale": {"domain": [0, 72], "range": [336, 300], "nice": false, "zero": false}, "axis": null},
  "text": {"value": "VOL: 97168.64"}}},
{"data": {"values": [{}]},
 "mark": {"type": "text", "fontSize": 7.5, "color": "#f09ac0", "align": "left", "baseline": "middle"},
 "encoding": {
  "x": {"datum": 20.9, "type": "quantitative", "scale": {"domain": [0, 261.66], "nice": false, "zero": false}, "axis": null},
  "y": {"datum": 84, "type": "quantitative", "scale": {"domain": [0, 72], "range": [336, 300], "nice": false, "zero": false}, "axis": null},
  "text": {"value": "MA5: 137559.52"}}},
{"data": {"values": [{}]},
 "mark": {"type": "text", "fontSize": 7.5, "color": "#36b3c8", "align": "left", "baseline": "middle"},
 "encoding": {
  "x": {"datum": 41.4, "type": "quantitative", "scale": {"domain": [0, 261.66], "nice": false, "zero": false}, "axis": null},
  "y": {"datum": 84, "type": "quantitative", "scale": {"domain": [0, 72], "range": [336, 300], "nice": false, "zero": false}, "axis": null},
  "text": {"value": "MA10: 155998.90"}}},
{"data": {"values": [{}]},
 "mark": {"type": "text", "fontSize": 7.5, "color": "#555", "align": "left", "baseline": "middle"},
 "encoding": {
  "x": {"datum": -7.2, "type": "quantitative", "scale": {"domain": [0, 261.66], "nice": false, "zero": false}, "axis": null},
  "y": {"datum": 26.4, "type": "quantitative", "scale": {"domain": [-21.2, 21.9], "range": [383, 345], "nice": false, "zero": false}, "axis": null},
  "text": {"value": "MACD"}}},
{"data": {"values": [{}]},
 "mark": {"type": "text", "fontSize": 7.5, "color": "#5a70e0", "align": "left", "baseline": "middle"},
 "encoding": {
  "x": {"datum": 1.6, "type": "quantitative", "scale": {"domain": [0, 261.66], "nice": false, "zero": false}, "axis": null},
  "y": {"datum": 26.4, "type": "quantitative", "scale": {"domain": [-21.2, 21.9], "range": [383, 345], "nice": false, "zero": false}, "axis": null},
  "text": {"value": "DIF: 11.66"}}},
{"data": {"values": [{}]},
 "mark": {"type": "text", "fontSize": 7.5, "color": "#d884e4", "align": "left", "baseline": "middle"},
 "encoding": {
  "x": {"datum": 20.7, "type": "quantitative", "scale": {"domain": [0, 261.66], "nice": false, "zero": false}, "axis": null},
  "y": {"datum": 26.4, "type": "quantitative", "scale": {"domain": [-21.2, 21.9], "range": [383, 345], "nice": false, "zero": false}, "axis": null},
  "text": {"value": "DEA: 12.23"}}},
{"data": {"values": [{}]},
 "mark": {"type": "text", "fontSize": 7.5, "color": "#b9605a", "align": "left", "baseline": "middle"},
 "encoding": {
  "x": {"datum": 39.7, "type": "quantitative", "scale": {"domain": [0, 261.66], "nice": false, "zero": false}, "axis": null},
  "y": {"datum": 26.4, "type": "quantitative", "scale": {"domain": [-21.2, 21.9], "range": [383, 345], "nice": false, "zero": false}, "axis": null},
  "text": {"value": "MACD: -1.14"}}}
]
}
